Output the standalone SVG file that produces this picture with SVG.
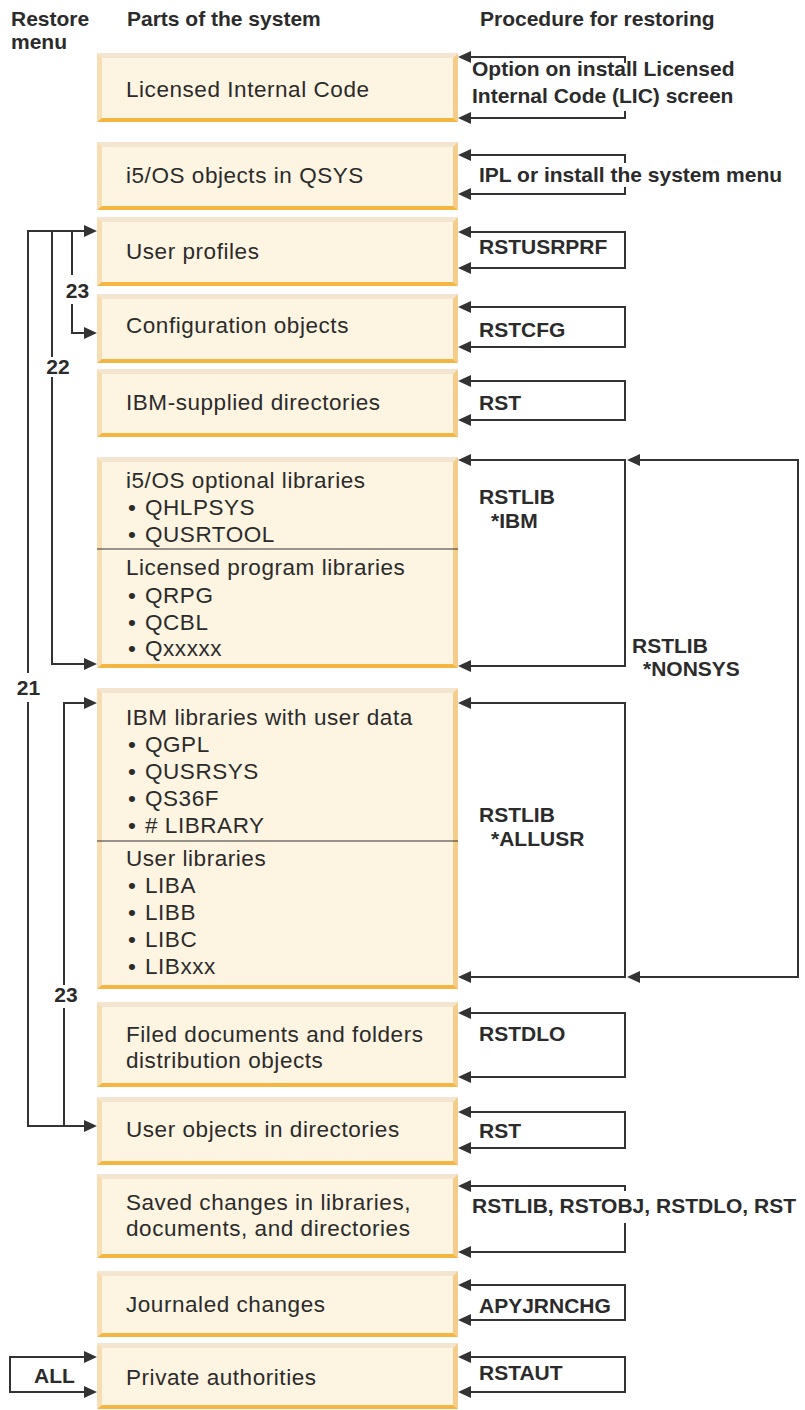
<svg xmlns="http://www.w3.org/2000/svg" width="805" height="1410" viewBox="0 0 805 1410">
<style>
.f{fill:#fef4e2}
.bt{fill:#f3e5d0}
.bl{fill:#f6ddb3}
.br{fill:#f3cd89}
.bb{fill:#f4b640}
.t{font-family:"Liberation Sans",Arial,sans-serif;font-size:22.5px;letter-spacing:0.55px;fill:#2b2b2b}
.b{font-family:"Liberation Sans",Arial,sans-serif;font-size:21px;font-weight:bold;fill:#2b2b2b}
.c{fill:none;stroke:#333;stroke-width:2}
.ce{fill:none;stroke:#333;stroke-width:2;marker-end:url(#ah)}
.cb{fill:none;stroke:#333;stroke-width:2;marker-start:url(#ahs);marker-end:url(#ah)}
.sep{stroke:#333;stroke-width:1}
</style>
<defs>
<marker id="ah" markerUnits="userSpaceOnUse" markerWidth="14" markerHeight="12" refX="10" refY="6" orient="auto"><path d="M0,0 L13,6 L0,12 z" fill="#333"/></marker>
<marker id="ahs" markerUnits="userSpaceOnUse" markerWidth="14" markerHeight="12" refX="10" refY="6" orient="auto-start-reverse"><path d="M0,0 L13,6 L0,12 z" fill="#333"/></marker>
</defs>
<rect width="805" height="1410" fill="#fff"/>

<g id="headers">
<text class="b" x="11" y="26">Restore</text>
<text class="b" x="11" y="49">menu</text>
<text class="b" x="127" y="26">Parts of the system</text>
<text class="b" x="480" y="26">Procedure for restoring</text>
</g>

<g id="n1">
<rect class="f" x="97" y="53" width="361" height="69"/>
<polygon class="bt" points="97,53 458,53 453,58 102,58"/>
<polygon class="bl" points="97,53 102,58 102,118 97,122"/>
<polygon class="br" points="458,53 458,122 453,118 453,58"/>
<polygon class="bb" points="97,122 458,122 453,118 102,118"/>
<text class="t" x="126" y="97">Licensed Internal Code</text>
</g>
<g id="n2">
<rect class="f" x="97" y="142" width="361" height="68"/>
<polygon class="bt" points="97,142 458,142 453,147 102,147"/>
<polygon class="bl" points="97,142 102,147 102,206 97,210"/>
<polygon class="br" points="458,142 458,210 453,206 453,147"/>
<polygon class="bb" points="97,210 458,210 453,206 102,206"/>
<text class="t" x="126" y="183">i5/OS objects in QSYS</text>
</g>
<g id="n3">
<rect class="f" x="97" y="217" width="361" height="69"/>
<polygon class="bt" points="97,217 458,217 453,222 102,222"/>
<polygon class="bl" points="97,217 102,222 102,282 97,286"/>
<polygon class="br" points="458,217 458,286 453,282 453,222"/>
<polygon class="bb" points="97,286 458,286 453,282 102,282"/>
<text class="t" x="126" y="259">User profiles</text>
</g>
<g id="n4">
<rect class="f" x="97" y="294" width="361" height="69"/>
<polygon class="bt" points="97,294 458,294 453,299 102,299"/>
<polygon class="bl" points="97,294 102,299 102,359 97,363"/>
<polygon class="br" points="458,294 458,363 453,359 453,299"/>
<polygon class="bb" points="97,363 458,363 453,359 102,359"/>
<text class="t" x="126" y="333">Configuration objects</text>
</g>
<g id="n5">
<rect class="f" x="97" y="369" width="361" height="68"/>
<polygon class="bt" points="97,369 458,369 453,374 102,374"/>
<polygon class="bl" points="97,369 102,374 102,433 97,437"/>
<polygon class="br" points="458,369 458,437 453,433 453,374"/>
<polygon class="bb" points="97,437 458,437 453,433 102,433"/>
<text class="t" x="126" y="410">IBM-supplied directories</text>
</g>
<g id="n6">
<rect class="f" x="97" y="457" width="361" height="211"/>
<polygon class="bt" points="97,457 458,457 453,462 102,462"/>
<polygon class="bl" points="97,457 102,462 102,664 97,668"/>
<polygon class="br" points="458,457 458,668 453,664 453,462"/>
<polygon class="bb" points="97,668 458,668 453,664 102,664"/>
<line class="sep" x1="97" y1="549" x2="458" y2="549"/>
<text class="t" x="126" y="488">i5/OS optional libraries</text>
<text class="t" x="128" y="515">•</text><text class="t" x="145" y="515">QHLPSYS</text>
<text class="t" x="128" y="542">•</text><text class="t" x="145" y="542">QUSRTOOL</text>
<text class="t" x="126" y="575">Licensed program libraries</text>
<text class="t" x="128" y="603">•</text><text class="t" x="145" y="603">QRPG</text>
<text class="t" x="128" y="630">•</text><text class="t" x="145" y="630">QCBL</text>
<text class="t" x="128" y="656">•</text><text class="t" x="145" y="656">Qxxxxx</text>
</g>
<g id="n7">
<rect class="f" x="97" y="688" width="361" height="301"/>
<polygon class="bt" points="97,688 458,688 453,693 102,693"/>
<polygon class="bl" points="97,688 102,693 102,985 97,989"/>
<polygon class="br" points="458,688 458,989 453,985 453,693"/>
<polygon class="bb" points="97,989 458,989 453,985 102,985"/>
<line class="sep" x1="97" y1="841" x2="458" y2="841"/>
<text class="t" x="126" y="725">IBM libraries with user data</text>
<text class="t" x="128" y="752">•</text><text class="t" x="145" y="752">QGPL</text>
<text class="t" x="128" y="779">•</text><text class="t" x="145" y="779">QUSRSYS</text>
<text class="t" x="128" y="806">•</text><text class="t" x="145" y="806">QS36F</text>
<text class="t" x="128" y="833">•</text><text class="t" x="145" y="833"># LIBRARY</text>
<text class="t" x="126" y="866">User libraries</text>
<text class="t" x="128" y="893">•</text><text class="t" x="145" y="893">LIBA</text>
<text class="t" x="128" y="920">•</text><text class="t" x="145" y="920">LIBB</text>
<text class="t" x="128" y="947">•</text><text class="t" x="145" y="947">LIBC</text>
<text class="t" x="128" y="974">•</text><text class="t" x="145" y="974">LIBxxx</text>
</g>
<g id="n8">
<rect class="f" x="97" y="1002" width="361" height="85"/>
<polygon class="bt" points="97,1002 458,1002 453,1007 102,1007"/>
<polygon class="bl" points="97,1002 102,1007 102,1083 97,1087"/>
<polygon class="br" points="458,1002 458,1087 453,1083 453,1007"/>
<polygon class="bb" points="97,1087 458,1087 453,1083 102,1083"/>
<text class="t" x="126" y="1042">Filed documents and folders</text>
<text class="t" x="126" y="1068">distribution objects</text>
</g>
<g id="n9">
<rect class="f" x="97" y="1097" width="361" height="68"/>
<polygon class="bt" points="97,1097 458,1097 453,1102 102,1102"/>
<polygon class="bl" points="97,1097 102,1102 102,1161 97,1165"/>
<polygon class="br" points="458,1097 458,1165 453,1161 453,1102"/>
<polygon class="bb" points="97,1165 458,1165 453,1161 102,1161"/>
<text class="t" x="126" y="1137">User objects in directories</text>
</g>
<g id="n10">
<rect class="f" x="97" y="1174" width="361" height="84"/>
<polygon class="bt" points="97,1174 458,1174 453,1179 102,1179"/>
<polygon class="bl" points="97,1174 102,1179 102,1254 97,1258"/>
<polygon class="br" points="458,1174 458,1258 453,1254 453,1179"/>
<polygon class="bb" points="97,1258 458,1258 453,1254 102,1254"/>
<text class="t" x="126" y="1210">Saved changes in libraries,</text>
<text class="t" x="126" y="1236">documents, and directories</text>
</g>
<g id="n11">
<rect class="f" x="97" y="1271" width="361" height="66"/>
<polygon class="bt" points="97,1271 458,1271 453,1276 102,1276"/>
<polygon class="bl" points="97,1271 102,1276 102,1333 97,1337"/>
<polygon class="br" points="458,1271 458,1337 453,1333 453,1276"/>
<polygon class="bb" points="97,1337 458,1337 453,1333 102,1333"/>
<text class="t" x="126" y="1312">Journaled changes</text>
</g>
<g id="n12">
<rect class="f" x="97" y="1343" width="361" height="66"/>
<polygon class="bt" points="97,1343 458,1343 453,1348 102,1348"/>
<polygon class="bl" points="97,1343 102,1348 102,1405 97,1409"/>
<polygon class="br" points="458,1343 458,1409 453,1405 453,1348"/>
<polygon class="bb" points="97,1409 458,1409 453,1405 102,1405"/>
<text class="t" x="126" y="1385">Private authorities</text>
</g>

<g id="connectors">
<path class="ce" d="M625,63 V57 H461"/>
<path class="ce" d="M625,111 V118 H461"/>
<path class="ce" d="M625,163 V155 H461"/>
<path class="ce" d="M625,187 V194 H461"/>
<path class="cb" d="M461,232 H625 V268 H461"/>
<path class="cb" d="M461,307 H625 V347 H461"/>
<path class="cb" d="M461,381 H625 V420 H461"/>
<path class="cb" d="M461,460 H625 V666 H461"/>
<path class="cb" d="M630,460 H798 V977 H630"/>
<path class="cb" d="M461,703 H625 V977 H461"/>
<path class="cb" d="M461,1013 H625 V1077 H461"/>
<path class="cb" d="M461,1112 H625 V1148 H461"/>
<path class="ce" d="M625,1191 V1186 H461"/>
<path class="ce" d="M625,1223 V1252 H461"/>
<path class="cb" d="M461,1285 H625 V1320 H461"/>
<path class="cb" d="M461,1357 H625 V1392 H461"/>
<path class="ce" d="M28,673 V231 H94"/>
<path class="ce" d="M28,702 V1126 H94"/>
<path class="c" d="M52,231 V357"/>
<path class="ce" d="M52,377 V664 H94"/>
<path class="c" d="M72,231 V275"/>
<path class="ce" d="M72,304 V333 H94"/>
<path class="ce" d="M64,985 V703 H94"/>
<path class="c" d="M64,1008 V1126"/>
<path class="cb" d="M94,1357 H10 V1392 H94"/>
</g>

<g id="labels">
<text class="b" x="472" y="76">Option on install Licensed</text>
<text class="b" x="472" y="103">Internal Code (LIC) screen</text>
<text class="b" x="479" y="182">IPL or install the system menu</text>
<text class="b" x="479" y="254">RSTUSRPRF</text>
<text class="b" x="479" y="337">RSTCFG</text>
<text class="b" x="479" y="410">RST</text>
<text class="b" x="479" y="504">RSTLIB</text>
<text class="b" x="491" y="528">*IBM</text>
<text class="b" x="632" y="653">RSTLIB</text>
<text class="b" x="643" y="676">*NONSYS</text>
<text class="b" x="479" y="822">RSTLIB</text>
<text class="b" x="491" y="846">*ALLUSR</text>
<text class="b" x="479" y="1041">RSTDLO</text>
<text class="b" x="479" y="1138">RST</text>
<text class="b" x="472" y="1213">RSTLIB, RSTOBJ, RSTDLO, RST</text>
<text class="b" x="479" y="1313">APYJRNCHG</text>
<text class="b" x="479" y="1380">RSTAUT</text>
<text class="b" x="34" y="1383">ALL</text>
<text class="b" x="28.5" y="695" text-anchor="middle">21</text>
<text class="b" x="58" y="374" text-anchor="middle">22</text>
<text class="b" x="77.5" y="298" text-anchor="middle">23</text>
<text class="b" x="66" y="1002" text-anchor="middle">23</text>
</g>
</svg>
